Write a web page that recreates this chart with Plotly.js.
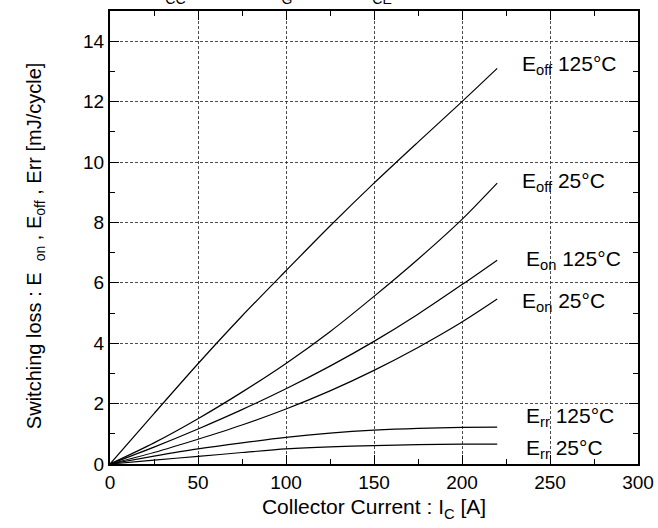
<!DOCTYPE html>
<html>
<head>
<meta charset="utf-8">
<script src="https://cdn.plot.ly/plotly-3.0.1.min.js"></script>
<style>html,body{margin:0;padding:0;background:#fff;}#chart{width:658px;height:528px;}</style>
</head>
<body>
<div id="chart"></div>
<script>
var current = [0, 25, 50, 75, 100, 125, 150, 175, 200, 220];
var eoff125 = [0, 1.67, 3.32, 4.9, 6.4, 7.88, 9.3, 10.66, 12.0, 13.1];
var eoff25  = [0, 0.7, 1.5, 2.38, 3.33, 4.38, 5.55, 6.78, 8.1, 9.3];
var eon125  = [0, 0.56, 1.16, 1.8, 2.49, 3.24, 4.06, 4.96, 5.94, 6.75];
var eon25   = [0, 0.38, 0.82, 1.29, 1.82, 2.42, 3.1, 3.86, 4.7, 5.46];
var err125  = [0, 0.26, 0.5, 0.7, 0.88, 1.02, 1.12, 1.18, 1.21, 1.22];
var err25   = [0, 0.13, 0.25, 0.38, 0.5, 0.57, 0.61, 0.64, 0.66, 0.66];

var seriesNames = ['E<sub>off</sub> 125°C', 'E<sub>off</sub> 25°C', 'E<sub>on</sub> 125°C', 'E<sub>on</sub> 25°C', 'E<sub>rr</sub> 125°C', 'E<sub>rr</sub> 25°C'];
var seriesData = [eoff125, eoff25, eon125, eon25, err125, err25];
var labelX = [233, 233, 235, 233, 235, 235];
var labelY = [13.2, 9.35, 6.75, 5.35, 1.55, 0.5];

var conditionTexts = ['V<sub>CC</sub> = 600V', 'R<sub>G</sub> = 10Ω', 'V<sub>CE</sub> = ±15V'];
var conditionShift = [40, 155, 247];

var font = 'Liberation Sans, Arial, sans-serif';
var traces = seriesData.map(function (d, i) {
  return {x: current, y: d, type: 'scatter', mode: 'lines', name: seriesNames[i],
    line: {color: '#000', width: 1.2, shape: 'spline', smoothing: 0.8}, hoverinfo: 'x+y'};
});

var annotations = seriesNames.map(function (n, i) {
  return {x: labelX[i], y: labelY[i], xref: 'x', yref: 'y', text: n, showarrow: false,
    xanchor: 'left', yanchor: 'middle', font: {family: font, size: 21, color: '#000'}};
});
conditionTexts.forEach(function (t, i) {
  annotations.push({x: 0, y: 1, xref: 'paper', yref: 'paper', xanchor: 'left', yanchor: 'bottom',
    xshift: conditionShift[i], yshift: 2, showarrow: false, text: t,
    font: {family: font, size: 20, color: '#000'}});
});
annotations.push({x: -0.142, y: 0.481, xref: 'paper', yref: 'paper', xanchor: 'center', yanchor: 'middle',
  textangle: -90, showarrow: false,
  text: 'Switching loss : E  <sub>on</sub> , E<sub>off</sub> , Err [mJ/cycle]',
  font: {family: font, size: 20, color: '#000'}});

var axisCommon = {
  showline: true, linecolor: '#000', linewidth: 2, mirror: 'ticks',
  ticks: 'inside', ticklen: 9, tickwidth: 1, tickcolor: '#000',
  showgrid: true, gridcolor: '#222', gridwidth: 0.8, griddash: '3px,2px',
  zeroline: false, tickfont: {family: font, size: 19, color: '#000'}
};

var layout = {
  width: 658, height: 528,
  margin: {l: 110, r: 20, t: 11, b: 64},
  paper_bgcolor: '#fff', plot_bgcolor: '#fff',
  showlegend: false,
  font: {family: font, color: '#000'},
  xaxis: Object.assign({}, axisCommon, {
    range: [0, 300], tick0: 0, dtick: 50,
    minor: {dtick: 25, ticks: 'inside', ticklen: 5, tickcolor: '#000', showgrid: false},
    title: {text: 'Collector Current : I<sub>C</sub> [A]', font: {family: font, size: 21, color: '#000'}, standoff: 8}
  }),
  yaxis: Object.assign({}, axisCommon, {
    range: [0, 15], tick0: 0, dtick: 2,
    minor: {dtick: 1, ticks: 'inside', ticklen: 5, tickcolor: '#000', showgrid: false}
  }),
  annotations: annotations
};

Plotly.newPlot('chart', traces, layout, {displayModeBar: false, staticPlot: true});
</script>
</body>
</html>
